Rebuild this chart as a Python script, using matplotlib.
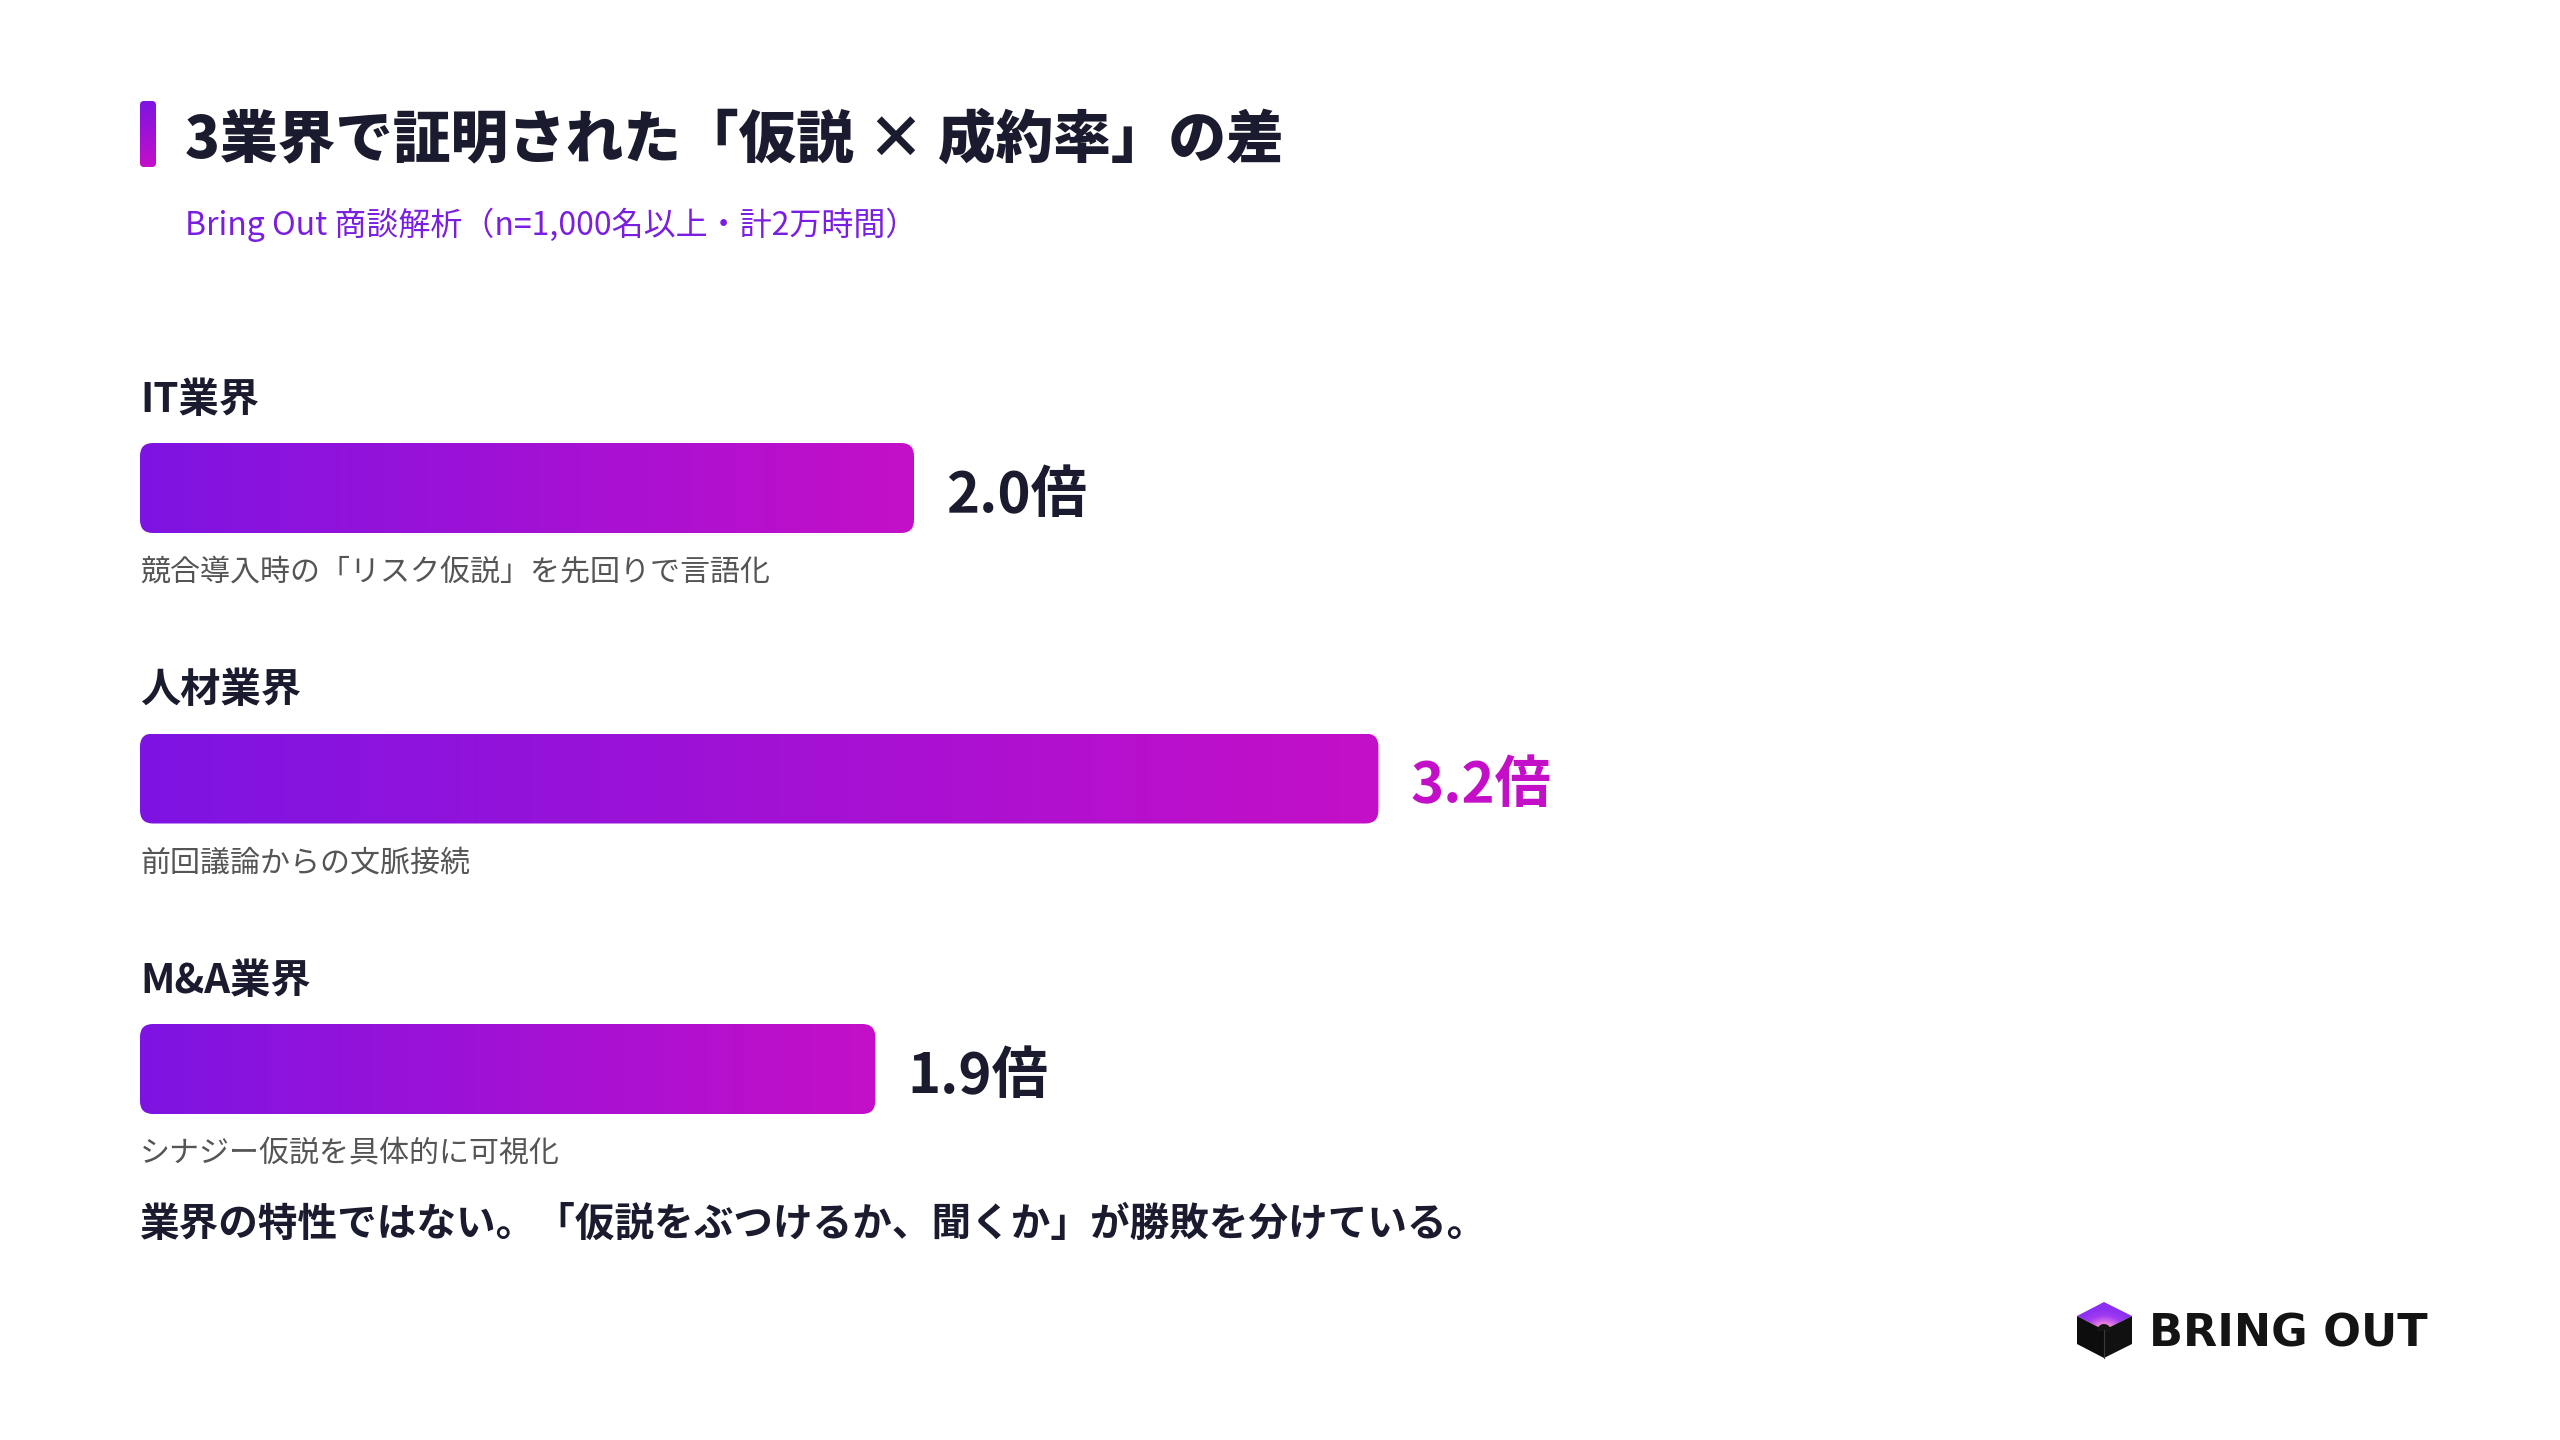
import numpy as np
import matplotlib
matplotlib.use("Agg")
import matplotlib.pyplot as plt
from matplotlib.patches import FancyBboxPatch, Polygon, Wedge
from matplotlib.colors import LinearSegmentedColormap

plt.rcParams['font.family'] = ['Noto Sans CJK JP', 'DejaVu Sans']

# --- data ---
categories = ['IT業界', '人材業界', 'M&A業界']
multipliers = [2.0, 3.2, 1.9]
value_labels = ['2.0倍', '3.2倍', '1.9倍']
descriptions = ['競合導入時の「リスク仮説」を先回りで言語化',
                '前回議論からの文脈接続',
                'シナジー仮説を具体的に可視化']

title = '3業界で証明された「仮説 × 成約率」の差'
subtitle = 'Bring Out 商談解析（n=1,000名以上・計2万時間）'
footer = '業界の特性ではない。「仮説をぶつけるか、聞くか」が勝敗を分けている。'

W, H = 2560, 1440
DARK = '#1b1b2f'
PURPLE = '#7e14e2'
MAGENTA = '#c40fc8'
GRAY = '#555555'

bar_cmap = LinearSegmentedColormap.from_list('bar', [PURPLE, MAGENTA])


def fx(px):
    return px / W


def fy(py):
    return 1 - py / H


fig = plt.figure(figsize=(25.6, 14.4), dpi=100)
fig.patch.set_facecolor('white')

# full-figure overlay in pixel coords for decorations
deco = fig.add_axes([0, 0, 1, 1])
deco.set_xlim(0, W)
deco.set_ylim(H, 0)
deco.axis('off')

# title accent bar
acc = FancyBboxPatch((140, 101), 16, 66, boxstyle='round,pad=0,rounding_size=4',
                     facecolor='none', edgecolor='none')
deco.add_patch(acc)
grad_v = np.linspace(0, 1, 128).reshape(-1, 1)
im = deco.imshow(grad_v, cmap=bar_cmap, extent=(140, 156, 167, 101), aspect='auto')
im.set_clip_path(acc)

fig.text(fx(185), fy(140), title, fontsize=41.5, fontweight='black', color=DARK,
         ha='left', va='center')
fig.text(fx(185), fy(225), subtitle, fontsize=23, color='#7a1fe0',
         ha='left', va='center')

# --- bars ---
px_per_unit = 387
xmax = 4.0
centers_px = [488, 778.5, 1069]
step = 290.5
top_px = centers_px[0] - step / 2
bot_px = centers_px[-1] + step / 2
ax = fig.add_axes([fx(140), fy(bot_px), xmax * px_per_unit / W, (bot_px - top_px) / H])
ax.axis('off')

bar_h = 90 / step
aspect = px_per_unit / step
grad_h = np.linspace(0, 1, 256).reshape(1, -1)

for i, (cat, val, lab, desc) in enumerate(zip(categories, multipliers, value_labels, descriptions)):
    patch = FancyBboxPatch((0, i - bar_h / 2), val, bar_h,
                           boxstyle='round,pad=0,rounding_size=%f' % (13 / px_per_unit),
                           mutation_aspect=aspect, facecolor='none', edgecolor='none')
    ax.add_patch(patch)
    bim = ax.imshow(grad_h, cmap=bar_cmap, extent=(0, val, i + bar_h / 2, i - bar_h / 2),
                    aspect='auto')
    bim.set_clip_path(patch)

    ax.annotate(cat, (0, i), xytext=(0, 88), textcoords='offset pixels',
                fontsize=29, fontweight='bold', color=DARK, ha='left', va='center')
    ax.annotate(desc, (0, i), xytext=(0, -85), textcoords='offset pixels',
                fontsize=21.6, color=GRAY, ha='left', va='center')
    col = MAGENTA if val == max(multipliers) else DARK
    ax.annotate(lab, (val, i), xytext=(32, -7), textcoords='offset pixels',
                fontsize=40.5, fontweight='bold', color=col, ha='left', va='center')

ax.set_xlim(0, xmax)
ax.set_ylim(len(categories) - 0.5, -0.5)

fig.text(fx(140), fy(1224), footer, fontsize=28.5, fontweight='bold', color=DARK,
         ha='left', va='center')

# --- logo ---
cx, cy = 2104, 1330
top_face = Polygon([(2104, 1302), (2132, 1316), (cx, cy), (2077, 1316)],
                   closed=True, facecolor='none', edgecolor='none')
deco.add_patch(top_face)
yy, xx = np.mgrid[1300:1332, 2075:2134]
r = np.hypot((xx - cx) / 30.0, (yy - cy) / 22.0)
glow = LinearSegmentedColormap.from_list('glow', ['#ffd8b8', '#e77be0', '#a23cf2', '#8b2ff0'])
gim = deco.imshow(np.clip(r, 0, 1), cmap=glow, extent=(2075, 2134, 1332, 1300),
                  aspect='auto', interpolation='bilinear')
gim.set_clip_path(top_face)
deco.add_patch(Polygon([(2077, 1316), (cx, cy), (cx, 1358), (2077, 1344)],
                       closed=True, facecolor='#0d0d0d', edgecolor='none'))
deco.add_patch(Polygon([(2132, 1316), (cx, cy), (cx, 1358), (2132, 1344)],
                       closed=True, facecolor='#111111', edgecolor='none'))
deco.add_patch(Wedge((cx, cy + 1), 7, 180, 360, facecolor='#161616', edgecolor='none'))
deco.plot([cx, cx], [cy, 1358], color='#3a3a3a', lw=0.8)

fig.text(fx(2149), fy(1334), 'BRING OUT', fontsize=32, fontweight='bold',
         family='DejaVu Sans', color='#141414', ha='left', va='center')

deco.set_xlim(0, W)
deco.set_ylim(H, 0)

fig.savefig('out.png', dpi=100, facecolor='white')
